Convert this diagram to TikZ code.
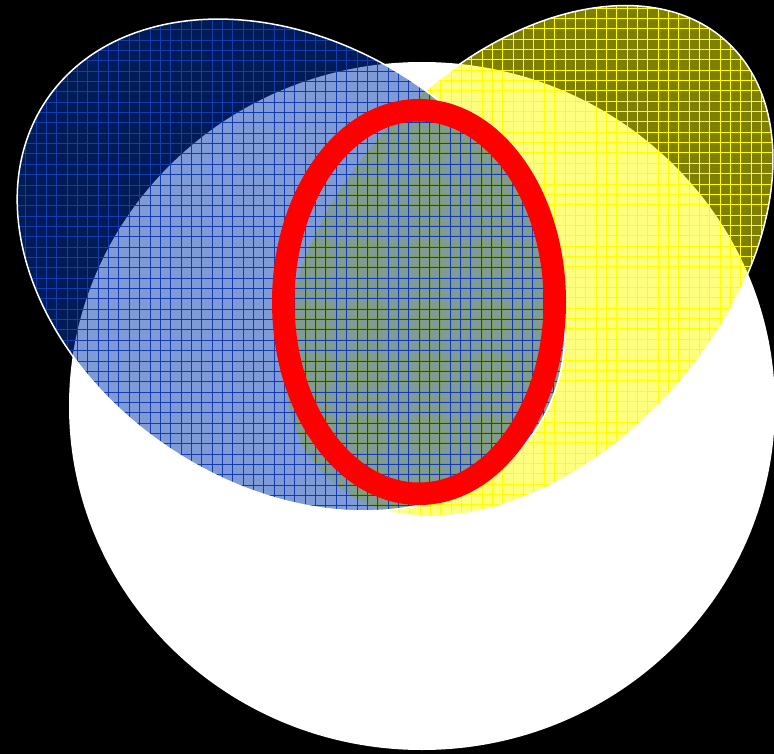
\documentclass[tikz,border=0pt]{standalone}
\usetikzlibrary{backgrounds}
\definecolor{navyfill}{RGB}{0,56,176}
\definecolor{navygrid}{RGB}{20,60,175}
\definecolor{lemon}{RGB}{255,255,0}
\tikzset{disc/.style={fill=white},
lobe/.style={draw=white, line width=1.5pt},
tint/.style={fill opacity=0.5},
hatch/.style={line width=0.8pt, step=10.35pt},
ring/.style={draw=red, line width=22.5pt}}

\begin{document}
\begin{tikzpicture}[x=1pt, y=-1pt]
  \useasboundingbox (0,0) rectangle (774,754);
  \fill[black] (0,0) rectangle (774,754);
  \fill[disc] (422,406) ellipse [x radius=353, y radius=344];
  % yellow lobe
  \begin{scope}
    \clip[rotate around={48:(528,261)}] (528,261) ellipse [x radius=296, y radius=194];
    \fill[tint, lemon] (0,0) rectangle (774,754);
    \draw[hatch, lemon, shift={(6,8)}] (-20,770) grid (790,-20);
  \end{scope}
  \draw[lobe, rotate around={48:(528,261)}] (528,261) ellipse [x radius=296, y radius=194];
  % blue lobe
  \begin{scope}
    \clip[rotate around={-34:(291,265)}] (291,265) ellipse [x radius=295, y radius=220];
    \fill[tint, navyfill] (0,0) rectangle (774,754);
    \draw[hatch, navygrid, shift={(5,9)}] (-20,770) grid (790,-20);
  \end{scope}
  \draw[lobe, rotate around={-34:(291,265)}] (291,265) ellipse [x radius=295, y radius=220];
  % red ring
  \draw[ring] (419,302) ellipse [x radius=135.75, y radius=191.75];
\end{tikzpicture}
\end{document}
